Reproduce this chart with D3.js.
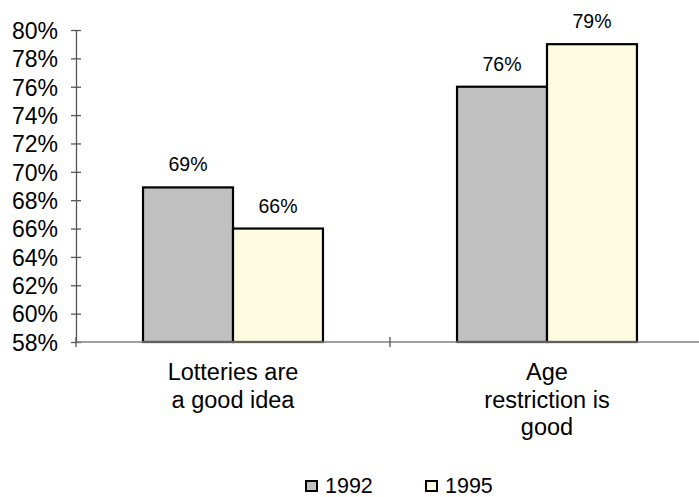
<!DOCTYPE html>
<html><head><meta charset="utf-8">
<script src="https://cdn.jsdelivr.net/npm/d3@7"></script>
<style>body{margin:0;background:#fff}svg{display:block}text{font-family:"Liberation Sans",Arial,sans-serif;fill:#000}</style>
</head><body><svg id="c" width="699" height="497"></svg>
<script>
const categories = [["Lotteries are","a good idea"],["Age","restriction is","good"]];
const series = ["1992","1995"];
const values1992 = [0.689, 0.76];
const values1995 = [0.66, 0.79];
const yTicks = [0.58,0.60,0.62,0.64,0.66,0.68,0.70,0.72,0.74,0.76,0.78,0.80];
const colors = ["#c0c0c0","#fefce0"];

(function(){
const svg = d3.select("#c");
const mLeft = 76, mRight = 704, mTop = 30, mBottom = 342;
const catIdx = categories.map((d,i)=>i);
const x0 = d3.scaleBand().domain(catIdx).range([mLeft,mRight]);
const x1 = d3.scaleBand().domain(series).range([0,x0.bandwidth()]).paddingInner(0).paddingOuter(0.745);
const y = d3.scaleLinear().domain([0.58,0.80]).range([mBottom,mTop]);
const axisColor = "#808080";

// y axis
const ya = svg.append("g").attr("transform",`translate(${mLeft},0)`)
  .call(d3.axisLeft(y).tickValues(yTicks).tickFormat(d3.format(".0%")).tickSizeInner(5).tickSizeOuter(0).tickPadding(13));
ya.select(".domain").attr("stroke","#555").attr("stroke-width",1.3);
ya.selectAll(".tick line").attr("x1",5).attr("x2",-5).attr("stroke","#555").attr("stroke-width",1.3);
ya.selectAll(".tick text").style("font-size","23px").attr("dy","0.36em");

const data = [values1992, values1995];
// bars
catIdx.forEach(ci=>{
  series.forEach((s,si)=>{
    const v = data[si][ci];
    svg.append("rect")
      .attr("x", x0(ci)+x1(s))
      .attr("y", y(v))
      .attr("width", x1.bandwidth())
      .attr("height", y(0.58)-y(v))
      .attr("fill", colors[si])
      .attr("stroke","#000").attr("stroke-width",2.2);
    svg.append("text")
      .attr("x", x0(ci)+x1(s)+x1.bandwidth()/2)
      .attr("y", y(v)-16)
      .attr("text-anchor","middle")
      .style("font-size","19.5px")
      .text(d3.format(".0%")(v));
  });
});

// x axis
svg.append("line").attr("x1",mLeft).attr("x2",mRight).attr("y1",mBottom).attr("y2",mBottom)
  .attr("stroke",axisColor).attr("stroke-width",1.5);
[mLeft, x0(1), mRight].forEach(xx=>{
  svg.append("line").attr("x1",xx).attr("x2",xx).attr("y1",mBottom-5).attr("y2",mBottom+5)
    .attr("stroke","#555").attr("stroke-width",1.3);
});
// category labels
catIdx.forEach(ci=>{
  const t = svg.append("text").attr("text-anchor","middle").style("font-size","23.5px");
  categories[ci].forEach((line,li)=>{
    t.append("tspan").attr("x", x0(ci)+x0.bandwidth()/2).attr("y", 380+li*27.5).text(line);
  });
});

// legend
const legX = [305, 425];
series.forEach((s,si)=>{
  svg.append("rect").attr("x",legX[si]+1).attr("y",481).attr("width",11).attr("height",10)
    .attr("fill",colors[si]).attr("stroke","#000").attr("stroke-width",2);
  svg.append("text").attr("x",legX[si]+20).attr("y",492.5).style("font-size","21.5px").text(s);
});
})();
</script></body></html>
